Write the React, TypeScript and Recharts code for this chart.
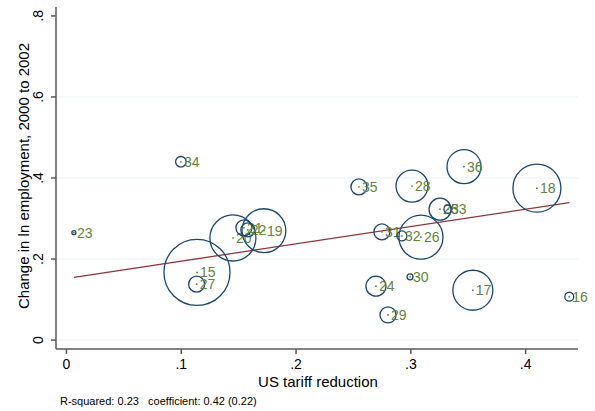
import React from 'react';
import { ScatterChart, Scatter, XAxis, YAxis, ZAxis, CartesianGrid } from 'recharts';

// industry codes, tariff cut, employment change, bubble weight
const industries = ['15', '27', '20', '21', '22', '19', '34', '23', '35', '28', '36', '18', '25', '33', '31', '32', '26', '30', '24', '29', '17', '16'];
const tariffCut = [0.1137, 0.1134, 0.145, 0.1546, 0.158, 0.172, 0.0997, 0.0065, 0.2548, 0.301, 0.3463, 0.4098, 0.3254, 0.3323, 0.2748, 0.2922, 0.3088, 0.2993, 0.2696, 0.2801, 0.354, 0.438];
const empChange = [0.167, 0.138, 0.252, 0.277, 0.272, 0.27, 0.44, 0.265, 0.378, 0.38, 0.428, 0.375, 0.323, 0.323, 0.267, 0.257, 0.254, 0.156, 0.133, 0.062, 0.123, 0.107];
const weights = [1090, 64, 530, 64, 49, 480, 28, 4, 64, 256, 290, 576, 121, 16, 64, 25, 484, 9, 100, 64, 400, 20];

// fitted line endpoints
const fitX = [0.0065, 0.438];
const fitY = [0.155, 0.339];

const xTicks = [0, 0.1, 0.2, 0.3, 0.4];
const yTicks = [0, 0.2, 0.4, 0.6, 0.8];

const points = industries.map((id, i) => ({ id, x: tariffCut[i], y: empChange[i], w: weights[i] }));
const fitData = fitX.map((x, i) => ({ x, y: fitY[i], w: 0 }));

const NAVY = '#1a476f';
const GREEN = '#62843a';
const MAROON = '#90353b';
const AXIS = '#5a5a5a';
const FONT = '"Liberation Sans", Arial, sans-serif';

const fmt = (v: number) => (v === 0 ? '0' : String(v).replace(/^0/, ''));

const Bubble = (props: any) => {
  const { cx, cy, width, payload } = props;
  const r = width / 2;
  return (
    <g>
      <circle cx={cx} cy={cy} r={r} fill="none" stroke={NAVY} strokeWidth={1.3} />
      <circle cx={cx} cy={cy} r={0.9} fill={GREEN} />
      <text x={cx + 3} y={cy} dominantBaseline="central" fontSize={14} fill={GREEN} fontFamily={FONT}>
        {payload.id}
      </text>
    </g>
  );
};

const XTick = (props: any) => {
  const { x, payload } = props;
  return (
    <text x={x} y={369} textAnchor="middle" fontSize={14} fill="#000" fontFamily={FONT}>
      {fmt(payload.value)}
    </text>
  );
};

const YTick = (props: any) => {
  const { y, payload } = props;
  return (
    <text x={43} y={y} transform={`rotate(-90 43 ${y})`} textAnchor="middle" fontSize={14} fill="#000" fontFamily={FONT}>
      {fmt(payload.value)}
    </text>
  );
};

const BottomText = () => (
  <g fontFamily={FONT}>
    <text x={318} y={386.5} textAnchor="middle" fontSize={15} fill="#000">US tariff reduction</text>
    <text x={60} y={405} fontSize={11} fill="#000" xmlSpace="preserve">R-squared: 0.23   coefficient: 0.42 (0.22)</text>
  </g>
);

const App = () => {
  return (
    <div style={{ position: 'absolute', left: 0, top: 0, background: '#fff' }}>
      <ScatterChart width={595} height={411} margin={{ top: 7, right: 17, left: 0, bottom: 0 }}>
        <CartesianGrid vertical={false} stroke="#e8f0f2" horizontalValues={[0, 0.2, 0.4, 0.6]} />
        <XAxis
          type="number"
          dataKey="x"
          domain={[-0.0091, 0.4456]}
          ticks={xTicks}
          height={62}
          stroke={AXIS}
          strokeWidth={1.5}
          tickSize={5}
          tick={<XTick />}
          label={{ content: () => <BottomText /> }}
        />
        <YAxis
          type="number"
          dataKey="y"
          domain={[-0.022, 0.822]}
          ticks={yTicks}
          width={56}
          stroke={AXIS}
          strokeWidth={1.5}
          tickSize={5}
          tick={<YTick />}
          label={{
            content: () => (
              <text x={28.5} y={176} transform="rotate(-90 28.5 176)" textAnchor="middle" fontSize={15} fill="#000" fontFamily={FONT}>
                Change in ln employment, 2000 to 2002
              </text>
            ),
          }}
        />
        <ZAxis type="number" dataKey="w" domain={[0, 1100]} range={[0, 1100 * Math.PI]} />
        <Scatter data={fitData} line={{ stroke: MAROON, strokeWidth: 1.3 }} shape={() => <g />} isAnimationActive={false} />
        <Scatter data={points} shape={<Bubble />} isAnimationActive={false} />
      </ScatterChart>
    </div>
  );
};

export default App;
